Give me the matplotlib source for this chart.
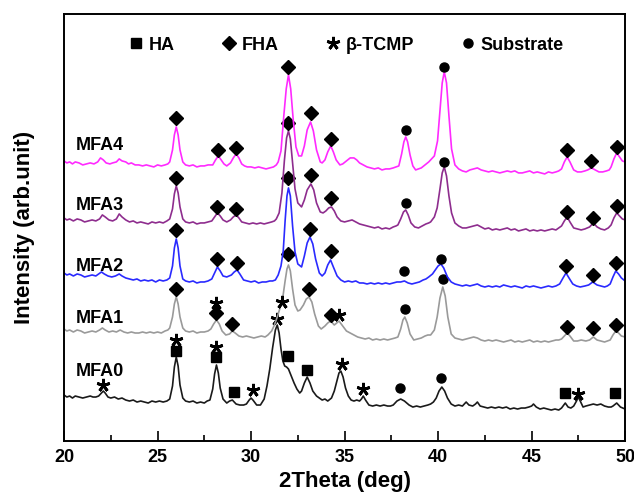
import numpy as np
import matplotlib.pyplot as plt
from matplotlib.lines import Line2D

plt.rcParams['font.family'] = ['Liberation Sans', 'DejaVu Sans']
plt.rcParams['font.weight'] = 'bold'

# (2theta in deg, intensity in arb. unit, already offset for stacking)
mfa4 = [(20.0, 280), (20.15, 278), (20.3, 279), (20.45, 277), (20.6, 279), (20.8, 278), (21.0, 276),
        (21.2, 277), (21.4, 278), (21.6, 277), (21.8, 279), (21.95, 283), (22.1, 281), (22.25, 278),
        (22.45, 277), (22.6, 278), (22.8, 279), (22.95, 282), (23.1, 280), (23.3, 279), (23.45, 277),
        (23.6, 278), (23.8, 276), (24.0, 276), (24.2, 275), (24.4, 276), (24.6, 275), (24.8, 274),
        (25.0, 276), (25.2, 275), (25.4, 276), (25.55, 277), (25.65, 279), (25.8, 291), (25.9, 306),
        (26.0, 314), (26.1, 306), (26.2, 291), (26.35, 279), (26.5, 276), (26.7, 275), (26.9, 276),
        (27.1, 274), (27.3, 275), (27.5, 275), (27.7, 276), (27.95, 276), (28.1, 281), (28.25, 285),
        (28.4, 281), (28.55, 277), (28.7, 275), (28.9, 278), (29.05, 283), (29.2, 287), (29.35, 283),
        (29.5, 277), (29.65, 275), (29.8, 274), (30.0, 274), (30.2, 273), (30.4, 274), (30.6, 273),
        (30.8, 272), (31.0, 273), (31.2, 274), (31.35, 276), (31.45, 279), (31.6, 290), (31.75, 325),
        (31.88, 352), (32.0, 366), (32.12, 352), (32.25, 322), (32.4, 294), (32.55, 285), (32.7, 285),
        (32.85, 295), (33.0, 311), (33.18, 319), (33.33, 310), (33.5, 291), (33.7, 279), (33.8, 278),
        (33.95, 281), (34.1, 289), (34.26, 295), (34.4, 289), (34.55, 281), (34.75, 276), (34.9, 277),
        (35.1, 280), (35.3, 283), (35.5, 283), (35.65, 281), (35.8, 278), (36.0, 276), (36.2, 274),
        (36.4, 273), (36.6, 272), (36.8, 273), (37.0, 271), (37.2, 272), (37.4, 272), (37.6, 273),
        (37.75, 274), (37.9, 275), (38.05, 287), (38.17, 299), (38.27, 304), (38.37, 299), (38.5, 286),
        (38.65, 275), (38.8, 271), (38.95, 272), (39.1, 273), (39.3, 276), (39.5, 279), (39.65, 282),
        (39.8, 285), (39.97, 300), (40.1, 330), (40.22, 358), (40.33, 369), (40.45, 358), (40.58, 325),
        (40.72, 292), (40.9, 276), (41.1, 272), (41.3, 270), (41.5, 269), (41.7, 271), (41.9, 272),
        (42.1, 273), (42.3, 271), (42.5, 270), (42.7, 269), (42.9, 270), (43.1, 269), (43.3, 268),
        (43.5, 269), (43.7, 270), (43.9, 269), (44.1, 270), (44.3, 268), (44.5, 268), (44.7, 269),
        (44.9, 270), (45.1, 268), (45.3, 269), (45.5, 268), (45.7, 267), (45.9, 269), (46.1, 268),
        (46.3, 269), (46.45, 270), (46.6, 272), (46.75, 279), (46.9, 284), (47.05, 279), (47.25, 271),
        (47.45, 269), (47.65, 269), (47.85, 270), (48.0, 271), (48.2, 273), (48.4, 271), (48.6, 269),
        (48.8, 269), (49.0, 270), (49.15, 271), (49.25, 274), (49.4, 282), (49.55, 288), (49.7, 284),
        (49.85, 280), (50.0, 279)]

mfa3 = [(20.0, 223), (20.15, 221), (20.3, 222), (20.5, 220), (20.7, 222), (20.9, 221), (21.1, 219),
        (21.3, 220), (21.5, 221), (21.7, 220), (21.9, 222), (22.05, 226), (22.2, 224), (22.4, 221),
        (22.6, 220), (22.8, 222), (22.95, 227), (23.1, 224), (23.3, 221), (23.5, 219), (23.7, 220),
        (23.9, 218), (24.1, 219), (24.3, 218), (24.5, 217), (24.7, 219), (24.9, 218), (25.1, 219),
        (25.3, 218), (25.5, 220), (25.65, 222), (25.8, 232), (25.9, 247), (26.0, 255), (26.1, 248),
        (26.2, 234), (26.35, 222), (26.5, 219), (26.7, 218), (26.9, 219), (27.1, 217), (27.3, 218),
        (27.5, 218), (27.7, 219), (27.9, 220), (28.05, 224), (28.2, 228), (28.35, 225), (28.5, 221),
        (28.7, 219), (28.9, 221), (29.05, 224), (29.2, 226), (29.35, 223), (29.5, 219), (29.7, 218),
        (29.9, 217), (30.1, 218), (30.3, 217), (30.5, 218), (30.7, 217), (30.9, 218), (31.1, 219),
        (31.25, 220), (31.35, 222), (31.5, 228), (31.65, 248), (31.78, 280), (31.9, 303), (32.0, 310),
        (32.1, 302), (32.22, 278), (32.35, 252), (32.5, 238), (32.7, 234), (32.85, 241), (33.0, 251),
        (33.2, 257), (33.35, 251), (33.5, 238), (33.7, 229), (33.85, 228), (34.0, 230), (34.15, 233),
        (34.3, 234), (34.45, 230), (34.6, 224), (34.8, 220), (35.0, 219), (35.2, 220), (35.4, 221),
        (35.6, 219), (35.8, 217), (36.0, 216), (36.2, 215), (36.4, 214), (36.6, 213), (36.8, 214),
        (37.0, 212), (37.2, 213), (37.4, 212), (37.6, 214), (37.75, 215), (37.85, 216), (38.0, 222),
        (38.15, 229), (38.27, 231), (38.4, 226), (38.55, 218), (38.75, 214), (38.95, 213), (39.15, 215),
        (39.35, 217), (39.5, 218), (39.6, 219), (39.8, 224), (39.95, 233), (40.1, 252), (40.22, 268),
        (40.33, 274), (40.45, 265), (40.58, 245), (40.72, 228), (40.9, 218), (41.1, 215), (41.3, 213),
        (41.5, 213), (41.7, 214), (41.9, 215), (42.1, 216), (42.3, 214), (42.5, 212), (42.7, 213),
        (42.9, 211), (43.1, 212), (43.3, 211), (43.5, 212), (43.7, 213), (43.9, 211), (44.1, 212),
        (44.3, 210), (44.5, 211), (44.7, 212), (44.9, 210), (45.1, 211), (45.3, 210), (45.5, 211),
        (45.7, 210), (45.9, 211), (46.1, 212), (46.3, 211), (46.45, 213), (46.6, 215), (46.75, 220),
        (46.9, 224), (47.05, 219), (47.25, 213), (47.45, 212), (47.65, 211), (47.85, 212), (48.1, 214),
        (48.3, 218), (48.5, 214), (48.7, 212), (48.9, 211), (49.1, 213), (49.25, 216), (49.4, 223),
        (49.55, 228), (49.7, 225), (49.85, 222), (50.0, 221)]

mfa2 = [(20.0, 168), (20.15, 166), (20.3, 167), (20.5, 165), (20.7, 167), (20.9, 166), (21.1, 164),
        (21.3, 165), (21.5, 166), (21.7, 165), (21.85, 167), (22.0, 169), (22.15, 167), (22.35, 165),
        (22.55, 164), (22.75, 165), (22.95, 167), (23.1, 165), (23.3, 163), (23.5, 162), (23.7, 161),
        (23.9, 162), (24.1, 160), (24.3, 161), (24.5, 160), (24.7, 161), (24.9, 159), (25.1, 161),
        (25.3, 160), (25.5, 161), (25.65, 163), (25.8, 175), (25.9, 193), (26.0, 202), (26.1, 193),
        (26.2, 175), (26.35, 162), (26.5, 160), (26.7, 159), (26.9, 160), (27.1, 158), (27.3, 159),
        (27.5, 159), (27.7, 160), (27.9, 162), (28.05, 168), (28.2, 174), (28.35, 170), (28.5, 165),
        (28.7, 164), (28.95, 166), (29.1, 169), (29.25, 171), (29.4, 167), (29.6, 161), (29.8, 160),
        (30.0, 159), (30.2, 160), (30.4, 158), (30.6, 159), (30.8, 159), (31.0, 160), (31.15, 160),
        (31.3, 161), (31.45, 166), (31.6, 175), (31.72, 190), (31.82, 220), (31.92, 245), (32.0, 253),
        (32.1, 245), (32.22, 215), (32.35, 189), (32.5, 177), (32.7, 174), (32.85, 185), (33.0, 198),
        (33.15, 204), (33.3, 197), (33.45, 182), (33.65, 168), (33.8, 165), (33.95, 168), (34.1, 176),
        (34.25, 181), (34.4, 174), (34.6, 165), (34.8, 161), (35.0, 159), (35.2, 160), (35.4, 159),
        (35.6, 160), (35.8, 158), (36.0, 158), (36.2, 157), (36.4, 158), (36.6, 157), (36.8, 158),
        (37.0, 157), (37.2, 158), (37.4, 157), (37.6, 158), (37.8, 159), (38.0, 159), (38.2, 160),
        (38.4, 158), (38.6, 157), (38.8, 158), (39.0, 159), (39.2, 161), (39.35, 162), (39.5, 164),
        (39.7, 167), (39.85, 171), (40.0, 175), (40.15, 177), (40.3, 173), (40.5, 164), (40.7, 159),
        (40.9, 157), (41.1, 156), (41.3, 155), (41.5, 156), (41.7, 155), (41.9, 156), (42.1, 157),
        (42.3, 155), (42.5, 154), (42.7, 155), (42.9, 154), (43.1, 155), (43.3, 154), (43.5, 156),
        (43.7, 155), (43.9, 154), (44.1, 155), (44.3, 154), (44.5, 153), (44.7, 155), (44.9, 154),
        (45.1, 155), (45.3, 154), (45.5, 153), (45.7, 154), (45.9, 155), (46.1, 154), (46.3, 155),
        (46.5, 157), (46.68, 163), (46.84, 168), (47.0, 163), (47.2, 157), (47.4, 155), (47.6, 154),
        (47.85, 155), (48.05, 156), (48.27, 159), (48.5, 156), (48.7, 155), (48.9, 154), (49.05, 155),
        (49.2, 157), (49.35, 164), (49.5, 170), (49.65, 167), (49.8, 163), (50.0, 160)]

mfa1 = [(20.0, 112), (20.15, 110), (20.3, 111), (20.5, 109), (20.7, 111), (20.9, 110), (21.1, 108),
        (21.3, 109), (21.5, 110), (21.7, 109), (21.9, 111), (22.05, 113), (22.2, 111), (22.4, 109),
        (22.6, 110), (22.8, 109), (23.0, 111), (23.2, 109), (23.4, 108), (23.6, 109), (23.8, 108),
        (24.0, 108), (24.2, 109), (24.4, 108), (24.6, 109), (24.8, 108), (25.0, 109), (25.2, 108),
        (25.4, 110), (25.55, 111), (25.65, 113), (25.8, 124), (25.9, 137), (26.0, 144), (26.1, 137),
        (26.2, 124), (26.35, 113), (26.5, 110), (26.7, 109), (26.9, 110), (27.1, 108), (27.3, 109),
        (27.5, 109), (27.7, 110), (27.85, 112), (28.0, 117), (28.15, 121), (28.3, 117), (28.45, 110),
        (28.65, 106), (28.85, 107), (29.0, 110), (29.15, 108), (29.35, 105), (29.55, 104), (29.75, 105),
        (29.95, 104), (30.15, 103), (30.35, 104), (30.55, 105), (30.75, 104), (30.9, 106), (31.1, 110),
        (31.25, 116), (31.4, 124), (31.55, 133), (31.7, 144), (31.82, 160), (31.92, 172), (32.0, 176),
        (32.1, 170), (32.22, 152), (32.35, 136), (32.5, 130), (32.62, 131), (32.8, 136), (32.95, 142),
        (33.1, 144), (33.25, 139), (33.4, 127), (33.6, 115), (33.75, 112), (33.95, 115), (34.1, 118),
        (34.25, 120), (34.45, 116), (34.58, 118), (34.7, 120), (34.9, 115), (35.1, 110), (35.3, 108),
        (35.5, 106), (35.7, 104), (35.9, 103), (36.1, 102), (36.3, 103), (36.5, 101), (36.7, 102),
        (36.9, 101), (37.1, 102), (37.3, 101), (37.5, 102), (37.7, 103), (37.85, 104), (38.0, 112),
        (38.12, 121), (38.22, 124), (38.35, 118), (38.5, 107), (38.7, 101), (38.9, 102), (39.1, 103),
        (39.3, 105), (39.45, 106), (39.6, 106), (39.8, 111), (39.95, 124), (40.1, 143), (40.25, 154),
        (40.38, 145), (40.52, 124), (40.7, 107), (40.9, 103), (41.1, 102), (41.3, 101), (41.5, 102),
        (41.7, 103), (41.9, 104), (42.1, 103), (42.3, 101), (42.5, 100), (42.7, 101), (42.9, 100),
        (43.1, 101), (43.3, 100), (43.5, 99), (43.7, 100), (43.9, 101), (44.1, 99), (44.3, 100),
        (44.5, 99), (44.7, 100), (44.9, 101), (45.1, 99), (45.3, 100), (45.5, 99), (45.7, 100),
        (45.9, 99), (46.1, 100), (46.3, 101), (46.45, 101), (46.6, 102), (46.75, 105), (46.9, 108),
        (47.05, 105), (47.25, 100), (47.45, 100), (47.65, 101), (47.9, 100), (48.1, 101), (48.3, 104),
        (48.5, 101), (48.7, 100), (48.9, 99), (49.05, 100), (49.2, 101), (49.35, 106), (49.5, 110),
        (49.65, 108), (49.8, 105), (50.0, 104)]

mfa0 = [(20.0, 46), (20.15, 44), (20.3, 45), (20.45, 43), (20.6, 45), (20.8, 44), (21.0, 43),
        (21.2, 44), (21.4, 45), (21.55, 44), (21.7, 44), (21.85, 45), (22.0, 48), (22.1, 50),
        (22.2, 48), (22.35, 44), (22.5, 43), (22.7, 44), (22.9, 42), (23.1, 43), (23.3, 41),
        (23.5, 40), (23.7, 41), (23.9, 39), (24.1, 40), (24.3, 39), (24.5, 38), (24.7, 40),
        (24.9, 39), (25.1, 40), (25.3, 39), (25.5, 40), (25.65, 42), (25.8, 55), (25.9, 74),
        (26.0, 84), (26.1, 75), (26.2, 56), (26.35, 43), (26.5, 40), (26.7, 39), (26.9, 40),
        (27.1, 38), (27.3, 39), (27.5, 38), (27.65, 40), (27.8, 41), (27.95, 52), (28.05, 67),
        (28.15, 76), (28.25, 68), (28.35, 53), (28.5, 42), (28.7, 38), (28.85, 40), (29.0, 41),
        (29.2, 37), (29.4, 36), (29.6, 36), (29.75, 37), (29.9, 41), (30.0, 43), (30.1, 41),
        (30.3, 36), (30.5, 36), (30.7, 42), (30.85, 55), (31.0, 72), (31.15, 93), (31.3, 111),
        (31.4, 116), (31.5, 108), (31.6, 92), (31.7, 80), (31.8, 75), (31.9, 74), (32.0, 72),
        (32.15, 65), (32.3, 58), (32.45, 52), (32.6, 48), (32.7, 50), (32.85, 58), (33.0, 64),
        (33.15, 58), (33.3, 50), (33.5, 45), (33.65, 43), (33.8, 41), (33.95, 42), (34.1, 40),
        (34.3, 43), (34.45, 50), (34.6, 61), (34.7, 68), (34.8, 70), (34.92, 64), (35.05, 53),
        (35.2, 45), (35.35, 41), (35.5, 40), (35.65, 41), (35.8, 40), (35.9, 42), (36.0, 45),
        (36.12, 41), (36.3, 36), (36.5, 35), (36.7, 36), (36.9, 35), (37.1, 36), (37.3, 35),
        (37.45, 35), (37.6, 36), (37.8, 40), (38.0, 42), (38.2, 40), (38.45, 36), (38.65, 34),
        (38.85, 35), (39.05, 34), (39.25, 35), (39.45, 36), (39.6, 37), (39.75, 39), (39.9, 43),
        (40.05, 50), (40.2, 54), (40.35, 50), (40.5, 43), (40.7, 37), (40.9, 35), (41.1, 36),
        (41.3, 35), (41.5, 39), (41.65, 36), (41.85, 35), (42.0, 37), (42.1, 39), (42.25, 35),
        (42.45, 34), (42.65, 33), (42.85, 34), (43.05, 33), (43.25, 34), (43.45, 33), (43.65, 34),
        (43.85, 32), (44.05, 33), (44.25, 32), (44.45, 33), (44.65, 33), (44.85, 34), (45.0, 35),
        (45.1, 37), (45.25, 34), (45.45, 32), (45.65, 33), (45.85, 32), (46.05, 31), (46.25, 32),
        (46.45, 31), (46.6, 33), (46.8, 38), (46.95, 34), (47.1, 33), (47.25, 35), (47.4, 40),
        (47.5, 44), (47.6, 40), (47.75, 34), (47.9, 35), (48.1, 36), (48.3, 37), (48.5, 36),
        (48.7, 37), (48.9, 35), (49.1, 34), (49.25, 34), (49.35, 35), (49.55, 38), (49.75, 34),
        (50.0, 32)]

samples = ['MFA0', 'MFA1', 'MFA2', 'MFA3', 'MFA4']
patterns = [mfa0, mfa1, mfa2, mfa3, mfa4]
colors = ['#1a1a1a', '#9a9a9a', '#2a2aff', '#8e2d8e', '#ff2aff']
label_y = [70, 122, 174, 235, 295]

# phase identification marks: (phase, 2theta, height)
phase_marks = {
    'MFA4': [('FHA', 26.0, 323), ('FHA', 28.25, 291), ('FHA', 29.2, 293), ('FHA', 32.0, 374),
             ('FHA', 33.18, 328), ('FHA', 34.26, 302), ('Sub', 38.27, 311), ('Sub', 40.33, 374),
             ('FHA', 46.9, 291), ('FHA', 48.2, 280), ('FHA', 49.55, 294)],
    'MFA3': [('FHA', 26.0, 263), ('FHA', 28.2, 234), ('FHA', 29.2, 232), ('FHA', 32.0, 318),
             ('FHA', 33.2, 266), ('FHA', 34.3, 243), ('Sub', 38.27, 238), ('Sub', 40.33, 279),
             ('FHA', 46.9, 229), ('FHA', 48.3, 223), ('FHA', 49.55, 235)],
    'MFA2': [('FHA', 26.0, 211), ('FHA', 28.2, 182), ('FHA', 29.25, 178), ('FHA', 32.0, 263),
             ('FHA', 33.15, 212), ('FHA', 34.25, 190), ('Sub', 38.2, 170), ('Sub', 40.15, 182),
             ('FHA', 46.84, 175), ('FHA', 48.27, 166), ('FHA', 49.5, 178)],
    'MFA1': [('FHA', 26.0, 152), ('TCMP', 28.15, 138), ('FHA', 28.15, 128), ('FHA', 29.0, 117),
             ('TCMP', 31.67, 139), ('FHA', 32.0, 187), ('FHA', 33.1, 152), ('FHA', 34.25, 126),
             ('TCMP', 34.7, 126), ('Sub', 38.22, 132), ('Sub', 40.25, 162), ('FHA', 46.9, 114),
             ('FHA', 48.3, 113), ('FHA', 49.5, 116)],
    'MFA0': [('TCMP', 22.1, 56), ('TCMP', 26.0, 101), ('HA', 26.0, 90), ('TCMP', 28.15, 94),
             ('HA', 28.15, 84), ('HA', 29.1, 49), ('TCMP', 30.1, 51), ('TCMP', 31.4, 122),
             ('HA', 31.95, 85), ('HA', 33.0, 71), ('TCMP', 34.85, 77), ('TCMP', 36.0, 52),
             ('Sub', 37.95, 53), ('Sub', 40.15, 63), ('HA', 46.8, 48), ('TCMP', 47.5, 47),
             ('HA', 49.45, 48)],
}
phase_names = {'HA': 'HA', 'FHA': 'FHA', 'TCMP': 'β-TCMP', 'Sub': 'Substrate'}
phase_style = {
    'HA': dict(marker='s', ms=6.5),
    'FHA': dict(marker='D', ms=7.5),
    'TCMP': dict(marker=(5, 2, 0), ms=9.5, mew=2.0),
    'Sub': dict(marker='o', ms=6.5),
}

fig = plt.figure(figsize=(6.34, 4.95), dpi=100)
ax = fig.add_axes([0.101, 0.109, 0.885, 0.863])

for name, pat, c, ly in zip(samples, patterns, colors, label_y):
    xs, ys = zip(*pat)
    ax.plot(xs, ys, color=c, lw=1.2)
    ax.text(20.6, ly, name, fontsize=13, fontweight='bold', va='center', ha='left')
    for phase, tx, ty in phase_marks[name]:
        ax.plot(tx, ty, ls='none', color='black', mec='black', **phase_style[phase])

handles = [Line2D([], [], ls='none', color='black', mec='black', **phase_style[p]) for p in phase_names]
ax.legend(handles, list(phase_names.values()), loc='upper center', bbox_to_anchor=(0.505, 0.985), ncol=4,
          frameon=False, handlelength=0.6, handletextpad=0.4, columnspacing=2.7,
          prop={'size': 13, 'weight': 'bold'})

ax.set_xlim(20, 50)
ax.set_ylim(0, 427)
ax.set_xticks([20, 25, 30, 35, 40, 45, 50])
ax.set_xticks(np.arange(22.5, 50, 5), minor=True)
ax.set_yticks([])
ax.tick_params(axis='x', which='major', direction='in', length=7, width=1.2, labelsize=13, pad=6)
ax.tick_params(axis='x', which='minor', direction='in', length=4, width=1.2)
for lbl in ax.get_xticklabels():
    lbl.set_fontweight('bold')
for s in ax.spines.values():
    s.set_linewidth(1.4)

ax.set_xlabel('2Theta (deg)', fontsize=16, fontweight='bold')
ax.xaxis.set_label_coords(0.5, -0.07)
ax.set_ylabel('Intensity (arb.unit)', fontsize=16, fontweight='bold')
ax.yaxis.set_label_coords(-0.052, 0.5)

fig.savefig('out.png', dpi=100)
